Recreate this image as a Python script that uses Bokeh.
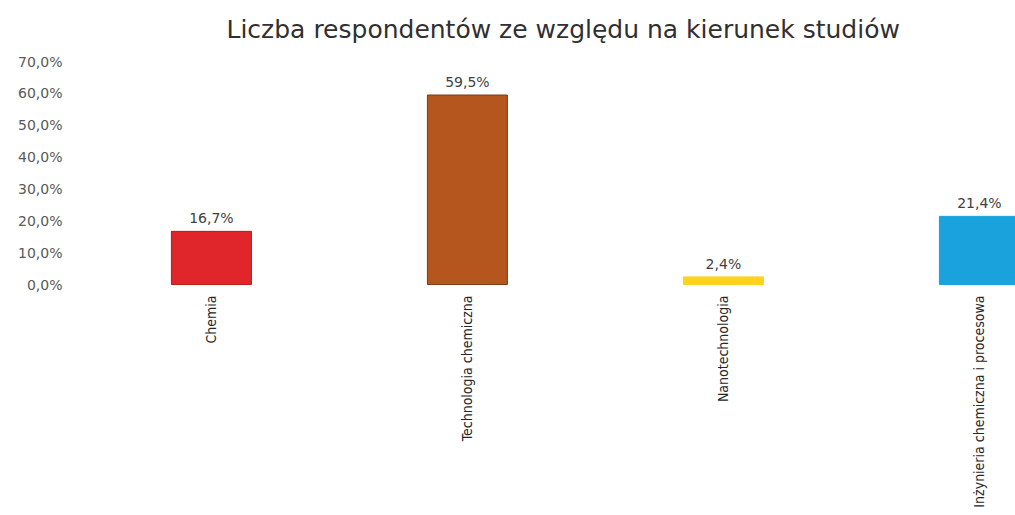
import math
from bokeh.plotting import figure
from bokeh.models import FixedTicker, Range1d
from bokeh.core.properties import value
from bokeh.embed import file_html
from bokeh.resources import INLINE

# ---- data ----
title_text = "Liczba respondentów ze względu na kierunek studiów"
categories = ["Chemia", "Technologia chemiczna", "Nanotechnologia",
              "Inżynieria chemiczna i procesowa"]
percents = [16.7, 59.5, 2.4, 21.4]
value_labels = ["16,7%", "59,5%", "2,4%", "21,4%"]
bar_colors = ["#E0262B", "#B4561E", "#FFD21E", "#19A2DC"]
bar_edges = ["#B01C1C", "#7A3A14", "#FFD21E", "#19A2DC"]
y_ticks = [0, 10, 20, 30, 40, 50, 60, 70]
y_tick_labels = ["0,0%", "10,0%", "20,0%", "30,0%", "40,0%", "50,0%", "60,0%", "70,0%"]

xs = list(range(len(categories)))

p = figure(width=1015, height=515, output_backend="svg", toolbar_location=None,
           x_range=Range1d(-0.527, 3.141), y_range=Range1d(-72.5, 71.9),
           min_border_left=76, min_border_right=0, min_border_bottom=0,
           min_border_top=55)
p.outline_line_color = None
p.background_fill_color = "white"
p.border_fill_color = "white"
p.xgrid.visible = False
p.ygrid.visible = False
p.xaxis.visible = False

p.title.text = title_text
p.title.text_font = "DejaVu Sans"
p.title.text_font_size = "25px"
p.title.text_font_style = "normal"
p.title.text_color = "#303030"
p.title.align = "left"
p.title.offset = 150
p.title.standoff = 23

ya = p.yaxis[0]
ya.ticker = FixedTicker(ticks=y_ticks)
ya.major_label_overrides = {t: l for t, l in zip(y_ticks, y_tick_labels)}
ya.axis_line_color = None
ya.major_tick_line_color = None
ya.minor_tick_line_color = None
ya.major_tick_out = 0
ya.major_tick_in = 0
ya.major_label_standoff = 14
ya.major_label_text_font = "DejaVu Sans"
ya.major_label_text_font_size = "14px"
ya.major_label_text_color = "#595959"

p.vbar(x=xs, top=percents, bottom=0, width=0.3125,
       fill_color=bar_colors, line_color=bar_edges, line_width=1)

p.text(x=xs, y=percents, text=value_labels, text_align="center",
       text_baseline="bottom", y_offset=-5,
       text_font=value("DejaVu Sans"), text_font_size="14px",
       text_color="#404040")

p.text(x=xs, y=[0] * len(xs), text=categories, angle=math.pi / 2,
       text_align="right", text_baseline="middle", y_offset=11,
       text_font=value("DejaVu Sans Condensed"), text_font_size="14px",
       text_color="#262626")

open("out.html", "w").write(file_html(p, INLINE))
